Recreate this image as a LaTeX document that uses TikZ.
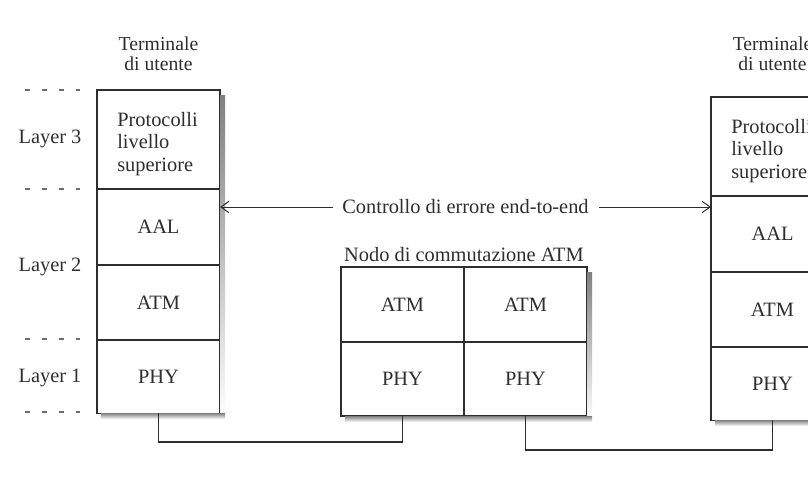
\documentclass[tikz,border=0pt]{standalone}
\usepackage{fontspec}
\setmainfont{Liberation Serif}
\usetikzlibrary{arrows.meta,calc,positioning}
\definecolor{ink}{HTML}{2E2E2E}
\definecolor{shade}{HTML}{A0A0A0}
\newcommand{\stackterm}[3]{%
  % #1 name prefix, #2 x of the centre, #3 top edge
  \node[cell,minimum height=2.475cm] (#1prot) at (#2,#3+49.5) {};
  \node[cell,minimum height=1.9cm,below=0pt of #1prot] (#1aal) {AAL};
  \node[cell,minimum height=1.875cm,below=0pt of #1aal] (#1atm) {ATM};
  \node[cell,minimum height=1.825cm,below=0pt of #1atm] (#1phy) {PHY};
  \node[anchor=north west,align=left,inner sep=0pt] (#1prottxt) at ([xshift=.5cm,yshift=-.55cm]#1prot.north west) {Protocolli\\livello\\superiore};
  \node[title] (#1title) at (#2,54) {Terminale\\di utente};
  \shadowstrip{#1prot}{#1phy}
}
% grey strips right of and below a stack of cells
\newcommand{\shadowstrip}[2]{%
  \fill[shade] ($(#1.north east)+(0,6)$) rectangle ($(#2.south east)+(5,6)$);
  \fill[shade] ($(#2.south west)+(4,0)$) rectangle ($(#2.south east)+(5,6)$);
}

\begin{document}
\begin{tikzpicture}[x=0.025cm,y=-0.025cm,line join=miter,
    font=\fontsize{14.5}{16}\selectfont,text=ink,
    cell/.style={draw=ink,fill=white,line width=.8pt,minimum width=3.075cm,inner sep=0pt,outer sep=0pt},
    title/.style={align=center,font=\fontsize{14}{14.5}\selectfont},
    layerdash/.style={draw=ink!70,line width=.9pt,dash pattern=on 3.5pt off 8.5pt},
    ctrl/.style={draw=ink,line width=.7pt,{Straight Barb[length=2mm,width=2.8mm]}-{Straight Barb[length=2mm,width=2.8mm]}},
    wire/.style={draw=ink,line width=1pt}]
  \path[use as bounding box] (0,0) rectangle (808,498);
  \clip (0,0) rectangle (808,498);

  % the two user terminals
  \stackterm{l}{158.5}{90}
  \stackterm{r}{772.5}{97}

  % layer marks on the left
  \foreach \y in {90,189,339,412}
    \draw[layerdash] (25,\y) -- (80,\y);
  \foreach \n/\y in {3/139,2/267,1/378}
    \node (lay\n) at (50,\y) {Layer \n};

  % ATM switching node
  \node[cell,minimum height=1.875cm] (matma) at (402.5,304.5) {ATM};
  \node[cell,minimum height=1.875cm,right=0pt of matma] (matmb) {ATM};
  \node[cell,minimum height=1.85cm,below=0pt of matma] (mphya) {PHY};
  \node[cell,minimum height=1.85cm,below=0pt of matmb] (mphyb) {PHY};
  \node[above=0pt of matma.north east] (nodolbl) {Nodo di commutazione ATM};
  \fill[shade] ($(matmb.north east)+(0,6)$) rectangle ($(mphyb.south east)+(5,6)$);
  \fill[shade] ($(mphya.south west)+(4,0)$) rectangle ($(mphyb.south east)+(5,6)$);

  % end-to-end error control
  \draw[ctrl] ([yshift=.5cm]laal.east) -- node[fill=white,inner xsep=7pt] (ctllbl) {Controllo di errore end-to-end} ([yshift=.5cm]laal.east -| raal.west);

  % physical links
  \draw[wire] (lphy.south) -- ++(0,29) -| (mphya.south);
  \draw[wire] (mphyb.south) -- ++(0,34) -| (rphy.south);
\end{tikzpicture}
\end{document}
